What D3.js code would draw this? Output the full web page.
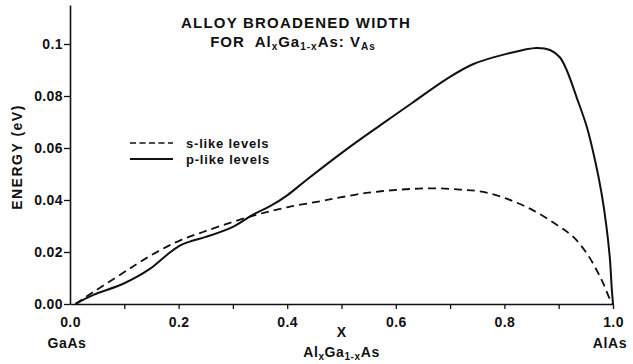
<!DOCTYPE html>
<html><head><meta charset="utf-8">
<script src="https://cdn.jsdelivr.net/npm/d3@7"></script>
<style>
body{margin:0;background:#fff;}
svg{display:block;font-family:"Liberation Sans",Arial,Helvetica,sans-serif;font-weight:bold;}
</style></head>
<body><svg id="c" width="633" height="364"></svg>
<script>
// ---- data ----
const xTicks = [0,0.1,0.2,0.3,0.4,0.5,0.6,0.7,0.8,0.9,1.0];
const xTickLabels = {0:"0.0",0.2:"0.2",0.4:"0.4",0.6:"0.6",0.8:"0.8",1:"1.0"};
const yTicks = [0,0.02,0.04,0.06,0.08,0.1];
const yTickLabels = ["0.00","0.02","0.04","0.06","0.08","0.1"];

const pX = [0.01,0.043,0.098,0.147,0.175,0.2,0.225,0.25,0.3,0.338,0.37,0.4,0.436,0.506,0.571,0.632,0.694,0.743,0.804,0.859,0.884,0.902,0.915,0.933,0.952,0.967,0.979,0.988,0.9945,0.9975,1.0];
const pY = [0,0.0035,0.0078,0.0135,0.0183,0.0222,0.0243,0.0258,0.0297,0.0345,0.0378,0.0418,0.0478,0.059,0.0687,0.0776,0.0866,0.0923,0.0962,0.0985,0.0977,0.0949,0.0898,0.0795,0.068,0.0552,0.0425,0.0297,0.0169,0.0066,0];

const sX = [0.01,0.043,0.098,0.13,0.166,0.203,0.245,0.3,0.35,0.402,0.46,0.485,0.546,0.608,0.669,0.718,0.761,0.804,0.853,0.902,0.927,0.952,0.97,0.982,0.9945,1.0];
const sY = [0,0.0046,0.012,0.0163,0.0207,0.0245,0.0277,0.0316,0.0347,0.0373,0.0395,0.0405,0.0427,0.044,0.0445,0.044,0.0431,0.0405,0.036,0.0297,0.0258,0.0194,0.013,0.0079,0.0018,0];

const seriesNames = ["s-like levels","p-like levels"];

// ---- chart ----
const svg = d3.select("#c");
const x = d3.scaleLinear().domain([0,1]).range([70,613]);
const y = d3.scaleLinear().domain([0,0.115]).range([304,5]);
const ink = "#111";

// axes
const gx = svg.append("g").attr("transform","translate(0,"+y(0)+")")
  .call(d3.axisBottom(x).tickValues(xTicks).tickSize(5).tickSizeOuter(0)
    .tickFormat(d=>{const k=Math.round(d*10)/10; return xTickLabels[k]!==undefined?xTickLabels[k]:"";}));
const gy = svg.append("g").attr("transform","translate("+x(0)+",0)")
  .call(d3.axisLeft(y).tickValues(yTicks).tickSize(6).tickSizeOuter(0)
    .tickFormat((d,i)=>yTickLabels[i]));
[gx,gy].forEach(g=>{
  g.select(".domain").attr("stroke",ink).attr("stroke-width",1.6);
  g.selectAll(".tick line").attr("stroke",ink).attr("stroke-width",1.3);
  g.selectAll(".tick text").attr("fill",ink).style("font-size","14px").style("font-weight","bold")
    .style("font-family","'Liberation Sans',Arial,sans-serif").style("letter-spacing","0.4px");
});
gx.selectAll(".tick text").attr("dy","1.05em");
gy.selectAll(".tick text").attr("x",-7).attr("dy","0.35em");
gx.selectAll(".tick line").filter(d=>d===0).remove();

// curves
const line = d3.line().x(d=>x(d[0])).y(d=>y(d[1])).curve(d3.curveCatmullRom.alpha(0.5));
const sData = sX.map((v,i)=>[v,sY[i]]);
const pData = pX.map((v,i)=>[v,pY[i]]);
svg.append("path").datum(sData).attr("d",line).attr("fill","none")
  .attr("stroke",ink).attr("stroke-width",1.8).attr("stroke-dasharray","8,5");
svg.append("path").datum(pData).attr("d",line).attr("fill","none")
  .attr("stroke",ink).attr("stroke-width",2);

// legend
const lg = svg.append("g");
lg.append("line").attr("x1",130).attr("x2",173).attr("y1",143).attr("y2",143)
  .attr("stroke",ink).attr("stroke-width",1.6).attr("stroke-dasharray","6,3.5");
lg.append("line").attr("x1",130).attr("x2",173).attr("y1",159).attr("y2",159)
  .attr("stroke",ink).attr("stroke-width",1.8);
lg.append("text").attr("x",186).attr("y",147.5).text(seriesNames[0]).attr("fill",ink)
  .style("font-size","13px").style("letter-spacing","0.8px");
lg.append("text").attr("x",186).attr("y",163.5).text(seriesNames[1]).attr("fill",ink)
  .style("font-size","13px").style("letter-spacing","0.8px");

// title
svg.append("text").attr("x",296).attr("y",28).attr("text-anchor","middle")
  .attr("fill",ink).style("font-size","15px").style("letter-spacing","1.2px")
  .text("ALLOY BROADENED WIDTH");
const t2 = svg.append("text").attr("x",293).attr("y",47).attr("text-anchor","middle")
  .attr("fill",ink).style("font-size","15px").style("letter-spacing","1px").style("white-space","pre");
t2.append("tspan").text("FOR  Al");
t2.append("tspan").text("x").attr("dy",3).style("font-size","10px");
t2.append("tspan").text("Ga").attr("dy",-3);
t2.append("tspan").text("1-x").attr("dy",3).style("font-size","10px");
t2.append("tspan").text("As: V").attr("dy",-3);
t2.append("tspan").text("As").attr("dy",3).style("font-size","10px");

// y label
svg.append("text").attr("transform","translate(22,157) rotate(-90)").attr("text-anchor","middle")
  .attr("fill",ink).style("font-size","14px").style("letter-spacing","1.5px").text("ENERGY (eV)");

// x labels
svg.append("text").attr("x",x(0.5)).attr("y",337).attr("text-anchor","middle")
  .attr("fill",ink).style("font-size","14px").text("X");
const xl = svg.append("text").attr("x",x(0.5)).attr("y",357).attr("text-anchor","middle")
  .attr("fill",ink).style("font-size","14px").style("letter-spacing","0.6px");
xl.append("tspan").text("Al");
xl.append("tspan").text("x").attr("dy",3).style("font-size","10px");
xl.append("tspan").text("Ga").attr("dy",-3);
xl.append("tspan").text("1-x").attr("dy",3).style("font-size","10px");
xl.append("tspan").text("As").attr("dy",-3);
svg.append("text").attr("x",67).attr("y",348).attr("text-anchor","middle")
  .attr("fill",ink).style("font-size","14px").style("letter-spacing","0.6px").text("GaAs");
svg.append("text").attr("x",610).attr("y",348).attr("text-anchor","middle")
  .attr("fill",ink).style("font-size","14px").style("letter-spacing","0.6px").text("AlAs");
</script></body></html>
